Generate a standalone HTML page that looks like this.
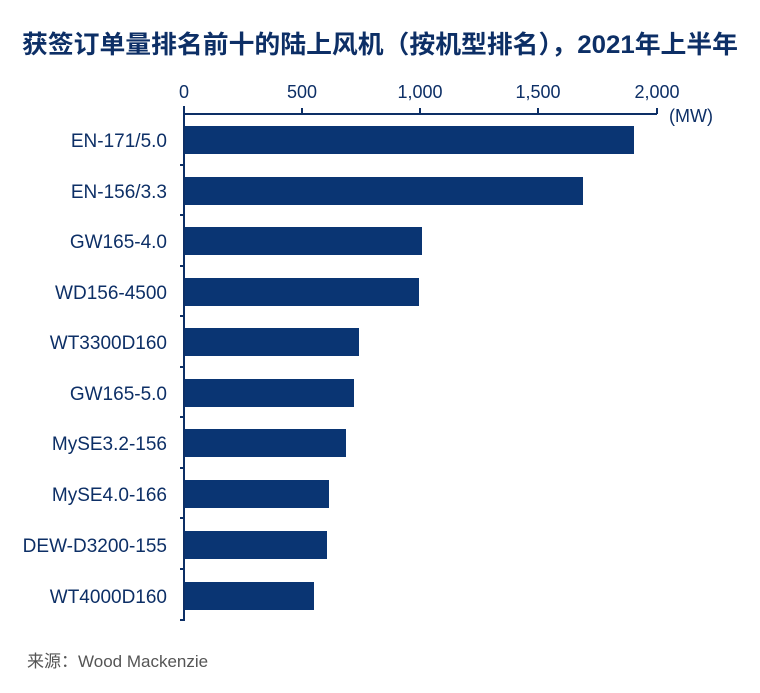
<!DOCTYPE html>
<html><head><meta charset="utf-8"><style>
body{margin:0;background:#fff;width:760px;height:688px;overflow:hidden}
</style></head><body>
<svg width="760" height="688" xmlns="http://www.w3.org/2000/svg" font-family="Liberation Sans, Noto Sans CJK SC, sans-serif">
<text x="22" y="53" font-size="25" font-weight="bold" fill="#0d2f66" textLength="716" lengthAdjust="spacingAndGlyphs" font-family="Liberation Sans, Noto Sans CJK SC, sans-serif">获签订单量排名前十的陆上风机（按机型排名），2021年上半年</text>
<g font-size="18" fill="#0d2f66" text-anchor="middle">
<text x="184" y="98">0</text><text x="302" y="98">500</text><text x="420" y="98">1,000</text><text x="538" y="98">1,500</text><text x="657" y="98">2,000</text>
<text x="691" y="122">(MW)</text>
</g>
<g stroke="#0d2f66" stroke-width="2" fill="none">
<line x1="184" y1="114" x2="657" y2="114"/>
<line x1="184" y1="106" x2="184" y2="621"/>
<line x1="302" y1="108" x2="302" y2="114"/><line x1="420" y1="108" x2="420" y2="114"/><line x1="538" y1="108" x2="538" y2="114"/><line x1="657" y1="108" x2="657" y2="114"/>
<line x1="180" y1="165" x2="184" y2="165"/><line x1="180" y1="215" x2="184" y2="215"/><line x1="180" y1="266" x2="184" y2="266"/><line x1="180" y1="316" x2="184" y2="316"/><line x1="180" y1="367" x2="184" y2="367"/><line x1="180" y1="417" x2="184" y2="417"/><line x1="180" y1="468" x2="184" y2="468"/><line x1="180" y1="518" x2="184" y2="518"/><line x1="180" y1="569" x2="184" y2="569"/><line x1="180" y1="620" x2="184" y2="620"/>
</g>
<g fill="#0a3573">
<rect x="185" y="126" width="449" height="28"/>
<rect x="185" y="177" width="398" height="28"/>
<rect x="185" y="227" width="237" height="28"/>
<rect x="185" y="278" width="234" height="28"/>
<rect x="185" y="328" width="174" height="28"/>
<rect x="185" y="379" width="169" height="28"/>
<rect x="185" y="429" width="161" height="28"/>
<rect x="185" y="480" width="144" height="28"/>
<rect x="185" y="531" width="142" height="28"/>
<rect x="185" y="582" width="129" height="28"/>
</g>
<g font-size="19" fill="#0d2f66" text-anchor="end">
<text x="167" y="147">EN-171/5.0</text>
<text x="167" y="198">EN-156/3.3</text>
<text x="167" y="248">GW165-4.0</text>
<text x="167" y="299">WD156-4500</text>
<text x="167" y="349">WT3300D160</text>
<text x="167" y="400">GW165-5.0</text>
<text x="167" y="450">MySE3.2-156</text>
<text x="167" y="501">MySE4.0-166</text>
<text x="167" y="552">DEW-D3200-155</text>
<text x="167" y="603">WT4000D160</text>
</g>
<text x="27" y="667" font-size="17" fill="#555">来源：Wood Mackenzie</text>
</svg>
</body></html>
